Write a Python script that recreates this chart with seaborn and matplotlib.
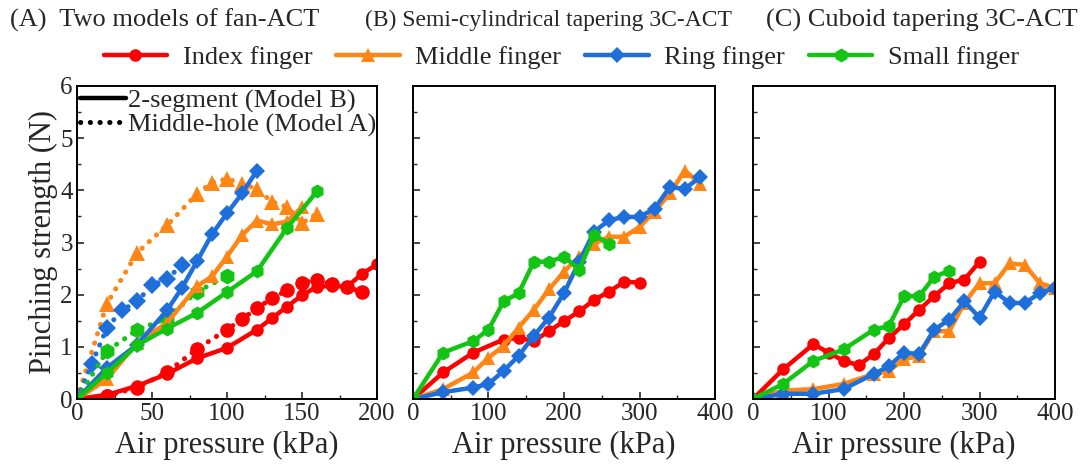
import matplotlib
matplotlib.use("Agg")
import matplotlib.pyplot as plt
import seaborn as sns
import numpy as np
from matplotlib.lines import Line2D
from matplotlib.ticker import MultipleLocator


# Data (kPa, N)

# (A) fan-ACT, 2-segment (Model B) -> solid lines
a_index_x  = [0, 20, 40, 60, 80, 100, 120, 130, 140, 150, 160, 170, 180, 190, 200]
a_index_y  = [0, 0.08, 0.25, 0.48, 0.78, 0.98, 1.33, 1.55, 1.77, 1.99, 2.15, 2.17, 2.15, 2.4, 2.58]
a_middle_x = [0, 20, 40, 60, 80, 90, 100, 110, 120, 130, 140, 150]
a_middle_y = [0, 0.38, 1.08, 1.46, 2.16, 2.35, 2.73, 3.14, 3.42, 3.35, 3.4, 3.68]
a_ring_x   = [0, 20, 40, 60, 70, 80, 90, 100, 110, 120]
a_ring_y   = [0, 0.6, 1.04, 1.7, 2.13, 2.64, 3.16, 3.56, 3.94, 4.38]
a_small_x  = [0, 20, 40, 60, 80, 100, 120, 140, 160]
a_small_y  = [0, 0.5, 1.03, 1.35, 1.65, 2.05, 2.45, 3.28, 3.98]

# (A) fan-ACT, middle-hole (Model A) -> dotted lines
h_index_x  = [0, 20, 40, 60, 80, 100, 110, 120, 130, 140, 150, 160, 170, 180, 190]
h_index_y  = [0, 0.06, 0.22, 0.51, 0.96, 1.33, 1.53, 1.74, 1.93, 2.08, 2.23, 2.28, 2.2, 2.15, 2.05]
h_middle_x = [0, 20, 40, 60, 80, 90, 100, 110, 120, 130, 140, 150, 160]
h_middle_y = [0, 1.83, 2.8, 3.33, 3.93, 4.15, 4.22, 4.13, 4.02, 3.78, 3.68, 3.37, 3.55]
h_ring_x   = [0, 10, 20, 30, 40, 50, 60, 70]
h_ring_y   = [0, 0.68, 1.37, 1.7, 1.87, 2.18, 2.3, 2.57]
h_small_x  = [0, 20, 40, 60, 80, 100]
h_small_y  = [0, 0.92, 1.32, 1.55, 2.06, 2.35]

# (B) semi-cylindrical tapering 3C-ACT
b_index_x  = [0, 40, 80, 120, 140, 160, 180, 200, 220, 240, 260, 280, 300]
b_index_y  = [0, 0.51, 0.89, 1.14, 1.17, 1.11, 1.3, 1.49, 1.68, 1.9, 2.06, 2.25, 2.23]
b_middle_x = [0, 40, 80, 100, 120, 140, 160, 180, 200, 220, 240, 260, 280, 300, 320, 340, 360, 380]
b_middle_y = [0, 0.19, 0.51, 0.79, 1.02, 1.37, 1.71, 2.1, 2.44, 2.73, 2.98, 3.11, 3.11, 3.3, 3.59, 3.94, 4.38, 4.13]
b_ring_x   = [0, 40, 80, 100, 120, 140, 160, 180, 200, 220, 240, 260, 280, 300, 320, 340, 360, 380]
b_ring_y   = [0, 0.13, 0.22, 0.29, 0.54, 0.83, 1.21, 1.56, 2.03, 2.63, 3.21, 3.43, 3.49, 3.49, 3.65, 4.06, 4.03, 4.25]
b_small_x  = [0, 40, 80, 100, 120, 140, 160, 180, 200, 220, 240, 260]
b_small_y  = [0, 0.89, 1.11, 1.33, 1.87, 2.03, 2.63, 2.63, 2.73, 2.48, 3.14, 2.98]

# (C) cuboid tapering 3C-ACT
c_index_x  = [0, 40, 80, 100, 120, 140, 160, 180, 200, 220, 240, 260, 280, 300]
c_index_y  = [0, 0.57, 1.05, 0.89, 0.73, 0.65, 0.86, 1.17, 1.43, 1.71, 1.97, 2.22, 2.29, 2.63]
c_middle_x = [0, 40, 80, 120, 160, 180, 200, 220, 240, 260, 280, 300, 320, 340, 360, 380, 400]
c_middle_y = [0, 0.16, 0.19, 0.29, 0.48, 0.54, 0.76, 0.83, 1.3, 1.3, 1.84, 2.22, 2.22, 2.6, 2.57, 2.22, 2.13]
c_ring_x   = [0, 40, 80, 120, 160, 180, 200, 220, 240, 260, 280, 300, 320, 340, 360, 380, 400]
c_ring_y   = [0, 0.1, 0.1, 0.19, 0.48, 0.63, 0.89, 0.86, 1.33, 1.52, 1.87, 1.56, 2.06, 1.84, 1.84, 2.03, 2.13]
c_small_x  = [0, 40, 80, 120, 160, 180, 200, 220, 240, 260]
c_small_y  = [0, 0.29, 0.73, 0.95, 1.33, 1.4, 1.97, 1.97, 2.34, 2.46]

finger_names = ['Index finger', 'Middle finger', 'Ring finger', 'Small finger']
colors  = ['#FF0000', '#FF8614', '#1F6FDB', '#14C414']
markers = ['o', '^', 'D', 'h']
msizes  = [9, 10, 8, 10]


sns.set_style("ticks")
plt.rcParams['font.family'] = ['Liberation Serif', 'DejaVu Serif']
plt.rcParams['mathtext.fontset'] = 'stix'

fig = plt.figure(figsize=(10.86, 4.70), dpi=100)
W, H = 1086, 470
def px_axes(left, right, top, bottom):
  return fig.add_axes([left / W, 1 - bottom / H, (right - left) / W, (bottom - top) / H])

axA = px_axes(77, 377, 86, 399)
axB = px_axes(413, 715, 86, 399)
axC = px_axes(753, 1055, 86, 399)


def draw(ax, x, y, i, dotted=False):
  if dotted:
    sns.lineplot(x=x, y=y, ax=ax, color=colors[i], marker=markers[i], markersize=msizes[i] + 1.5,
                 markeredgewidth=0, linewidth=3.6, linestyle=(0, (0.05, 1.9)), errorbar=None, sort=False)
    ax.lines[-1].set_dash_capstyle('round')
  else:
    sns.lineplot(x=x, y=y, ax=ax, color=colors[i], marker=markers[i], markersize=msizes[i],
                 markeredgewidth=0, linewidth=3.2, errorbar=None, sort=False)

panelA_solid  = [(a_index_x, a_index_y), (a_middle_x, a_middle_y), (a_ring_x, a_ring_y), (a_small_x, a_small_y)]
panelA_dotted = [(h_index_x, h_index_y), (h_middle_x, h_middle_y), (h_ring_x, h_ring_y), (h_small_x, h_small_y)]
panelB = [(b_index_x, b_index_y), (b_middle_x, b_middle_y), (b_ring_x, b_ring_y), (b_small_x, b_small_y)]
panelC = [(c_index_x, c_index_y), (c_middle_x, c_middle_y), (c_ring_x, c_ring_y), (c_small_x, c_small_y)]

for i, (x, y) in enumerate(panelA_dotted):
  draw(axA, x, y, i, dotted=True)
for i, (x, y) in enumerate(panelA_solid):
  draw(axA, x, y, i)
for i, (x, y) in enumerate(panelB):
  draw(axB, x, y, i)
for i, (x, y) in enumerate(panelC):
  draw(axC, x, y, i)


for ax, xmax, xmaj in [(axA, 200, 50), (axB, 400, 100), (axC, 400, 100)]:
  ax.set_xlim(0, xmax)
  ax.set_ylim(0, 6)
  ax.xaxis.set_major_locator(MultipleLocator(xmaj))
  ax.xaxis.set_minor_locator(MultipleLocator(xmaj / 2))
  ax.yaxis.set_major_locator(MultipleLocator(1))
  ax.yaxis.set_minor_locator(MultipleLocator(0.5))
  ax.tick_params(which='both', direction='in', top=False, right=False, labelsize=18, pad=3)
  ax.tick_params(which='major', length=5, width=1.2)
  ax.tick_params(which='minor', length=3, width=1.0)
  for s in ax.spines.values():
    s.set_linewidth(1.4)
    s.set_color('black')
  ax.set_xlabel('Air pressure (kPa)', fontsize=22, labelpad=4)
  ax.set_ylabel('')

axA.set_ylabel('Pinching strength (N)', fontsize=22, labelpad=2)
axB.set_yticklabels([])
axC.set_yticklabels([])

# model legend inside panel A
model_handles = [Line2D([0], [0], color='black', linewidth=3.2),
                 Line2D([0], [0], color='black', linewidth=3.6, linestyle=(0, (0.05, 1.9)), dash_capstyle='round')]
axA.legend(model_handles, ['2-segment (Model B)', 'Middle-hole (Model A)'], loc='upper left',
           frameon=False, fontsize=19, handlelength=1.75, handletextpad=0.08, borderaxespad=0.0,
           borderpad=0.1, labelspacing=0.02)

# finger legend on top
finger_handles = [Line2D([0], [0], color=colors[i], marker=markers[i], markersize=msizes[i],
                         markeredgewidth=0, linewidth=3.2) for i in range(4)]
fig.legend(finger_handles, finger_names, loc='center', bbox_to_anchor=(0.517, 1 - 57 / H), ncol=4,
           frameon=False, fontsize=19, handlelength=2.4, handletextpad=0.6, columnspacing=0.9)

# panel titles
fig.text(10 / W, 1 - 20 / H, '(A)  Two models of fan-ACT', fontsize=19, va='center', ha='left')
fig.text(365 / W, 1 - 20 / H, '(B) Semi-cylindrical tapering 3C-ACT', fontsize=17, va='center', ha='left')
fig.text(766 / W, 1 - 20 / H, '(C) Cuboid tapering 3C-ACT', fontsize=19, va='center', ha='left')

fig.savefig('out.png', dpi=100)
